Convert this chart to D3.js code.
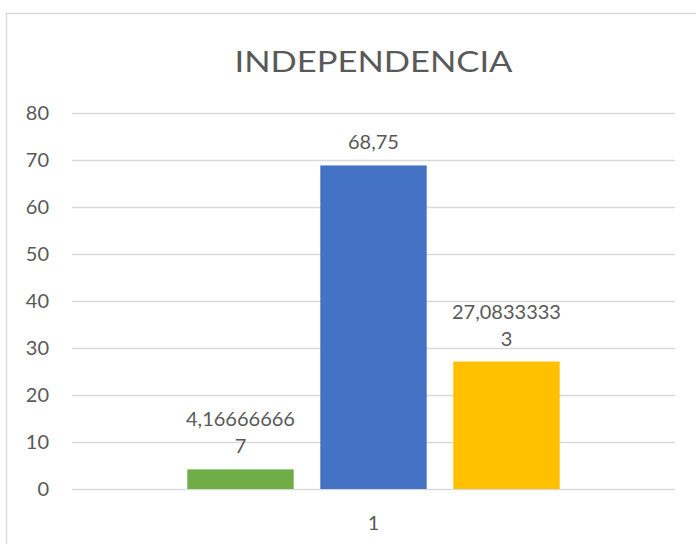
<!DOCTYPE html>
<html>
<head>
<meta charset="utf-8">
<script src="https://cdn.jsdelivr.net/npm/d3@7"></script>
<style>
  body { margin: 0; background: #fff; }
  text { font-family: Lato, "Open Sans", sans-serif; fill: #595959; }
</style>
</head>
<body>
<div id="vis"></div>
<script>
// chart data
var categories = ['1'];
var seriesNames = ['A', 'B', 'C'];
var seriesValues = [4.166666667, 68.75, 27.08333333];
var seriesColors = ['#70ad47', '#4472c4', '#ffc000'];
// data labels as Excel wraps them
var valueLabels = [['4,16666666', '7'], ['68,75'], ['27,0833333', '3']];
var yTicks = [0, 10, 20, 30, 40, 50, 60, 70, 80];
var title = 'INDEPENDENCIA';

var width = 696;
var height = 544;
var margin = { top: 112.5, right: 21, bottom: 55, left: 72 };

var svg = d3.select('#vis').append('svg')
  .attr('width', width)
  .attr('height', height);

// chart border (right / bottom fall outside the picture)
svg.append('rect')
  .attr('x', 6.5).attr('y', 13.5)
  .attr('width', 720).attr('height', 560)
  .attr('fill', 'none')
  .attr('stroke', '#d9d9d9')
  .attr('stroke-width', 1.5);

var y = d3.scaleLinear()
  .domain([0, 80])
  .range([height - margin.bottom, margin.top]);

var x0 = d3.scaleBand()
  .domain(categories)
  .range([margin.left, width - margin.right]);

var x1 = d3.scaleBand()
  .domain(seriesNames)
  .range([0, x0.bandwidth()])
  .paddingInner(0.2)
  .paddingOuter(0.867);

// gridlines
svg.append('g')
  .selectAll('line')
  .data(yTicks)
  .enter().append('line')
  .attr('x1', margin.left)
  .attr('x2', width - margin.right)
  .attr('y1', function (d) { return Math.round(y(d)) + 0.5; })
  .attr('y2', function (d) { return Math.round(y(d)) + 0.5; })
  .attr('stroke', '#d9d9d9')
  .attr('stroke-width', 1.5);

// y tick labels
svg.append('g')
  .selectAll('text')
  .data(yTicks)
  .enter().append('text')
  .attr('x', 49)
  .attr('y', function (d) { return y(d); })
  .attr('dy', '0.35em')
  .attr('text-anchor', 'end')
  .style('font-size', '20px')
  .text(function (d) { return d; });

// x category label
svg.append('g')
  .selectAll('text')
  .data(categories)
  .enter().append('text')
  .attr('x', function (d) { return x0(d) + x0.bandwidth() / 2; })
  .attr('y', 523)
  .attr('dy', '0.35em')
  .attr('text-anchor', 'middle')
  .style('font-size', '20px')
  .text(function (d) { return d; });

var bars = seriesNames.map(function (s, i) {
  return { name: s, value: seriesValues[i], color: seriesColors[i], label: valueLabels[i], cat: categories[0] };
});

svg.append('g')
  .selectAll('rect')
  .data(bars)
  .enter().append('rect')
  .attr('x', function (d) { return x0(d.cat) + x1(d.name); })
  .attr('y', function (d) { return y(d.value); })
  .attr('width', x1.bandwidth())
  .attr('height', function (d) { return y(0) - y(d.value); })
  .attr('fill', function (d) { return d.color; });

// data labels
var lineH = 27;
var labels = svg.append('g')
  .selectAll('text')
  .data(bars)
  .enter().append('text')
  .attr('text-anchor', 'middle')
  .style('font-size', '20px')
  .attr('x', function (d) { return x0(d.cat) + x1(d.name) + x1.bandwidth() / 2; })
  .attr('y', function (d) { return y(d.value) - 23 - (d.label.length - 1) * lineH; })
  .attr('dy', '0.35em');

labels.selectAll('tspan')
  .data(function (d) { return d.label.map(function (t, k) { return { t: t, k: k, d: d }; }); })
  .enter().append('tspan')
  .attr('x', function (e) { return x0(e.d.cat) + x1(e.d.name) + x1.bandwidth() / 2; })
  .attr('dy', function (e) { return e.k === 0 ? '0.35em' : lineH; })
  .text(function (e) { return e.t; });

// title (Calibri Light is wider, so stretch it)
svg.append('text')
  .attr('x', x0(categories[0]) + x0.bandwidth() / 2)
  .attr('y', 62)
  .attr('dy', '0.35em')
  .attr('text-anchor', 'middle')
  .attr('textLength', 278)
  .attr('lengthAdjust', 'spacingAndGlyphs')
  .style('font-size', '28px')
  .text(title);
</script>
</body>
</html>
